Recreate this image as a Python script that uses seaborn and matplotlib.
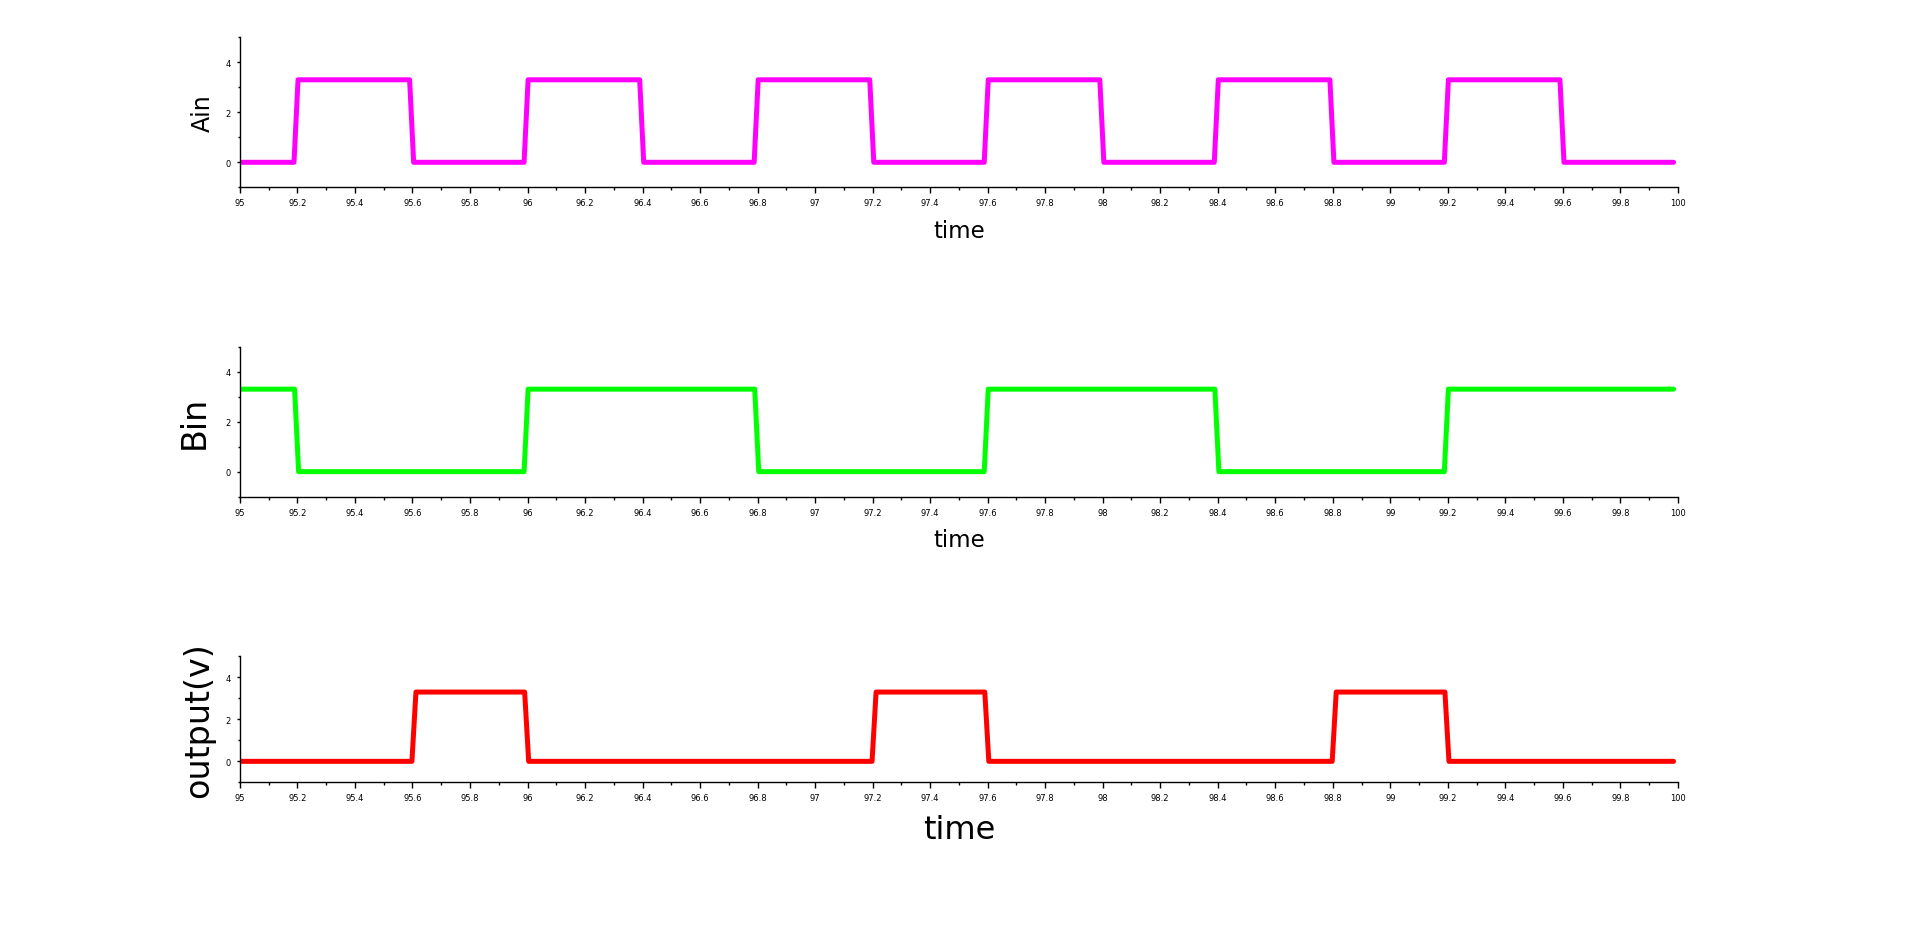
import matplotlib

matplotlib.use("Agg")
import matplotlib.pyplot as plt
import pandas as pd
import seaborn as sns
from matplotlib.ticker import MultipleLocator

# Ain square wave (time, volts)
ain_time = [95.0, 95.188, 95.202, 95.59, 95.604, 95.988, 96.002, 96.39, 96.404,
            96.788, 96.802, 97.19, 97.204, 97.588, 97.602, 97.99, 98.004,
            98.388, 98.402, 98.79, 98.804, 99.188, 99.202, 99.59, 99.604, 99.985]
ain_volts = [0, 0, 3.3, 3.3, 0, 0, 3.3, 3.3, 0, 0, 3.3, 3.3, 0, 0, 3.3, 3.3, 0,
             0, 3.3, 3.3, 0, 0, 3.3, 3.3, 0, 0]

# Bin square wave
bin_time = [95.0, 95.19, 95.204, 95.988, 96.002, 96.79, 96.804, 97.588, 97.602,
            98.39, 98.404, 99.188, 99.202, 99.985]
bin_volts = [3.3, 3.3, 0, 0, 3.3, 3.3, 0, 0, 3.3, 3.3, 0, 0, 3.3, 3.3]

# output
out_time = [95.0, 95.598, 95.612, 95.99, 96.004, 97.198, 97.212, 97.59, 97.604,
            98.798, 98.812, 99.19, 99.204, 99.985]
out_volts = [0, 0, 3.3, 3.3, 0, 0, 3.3, 3.3, 0, 0, 3.3, 3.3, 0, 0]

x_ticks = [95, 95.2, 95.4, 95.6, 95.8, 96, 96.2, 96.4, 96.6, 96.8, 97, 97.2,
           97.4, 97.6, 97.8, 98, 98.2, 98.4, 98.6, 98.8, 99, 99.2, 99.4, 99.6,
           99.8, 100]
x_tick_labels = ["95", "95.2", "95.4", "95.6", "95.8", "96", "96.2", "96.4",
                 "96.6", "96.8", "97", "97.2", "97.4", "97.6", "97.8", "98",
                 "98.2", "98.4", "98.6", "98.8", "99", "99.2", "99.4", "99.6",
                 "99.8", "100"]
y_ticks = [0, 2, 4]

sns.set_style("ticks")
plt.rcParams["font.family"] = ["DejaVu Sans"]
plt.rcParams.update({
    "text.color": "black",
    "axes.labelcolor": "black",
    "xtick.color": "black",
    "ytick.color": "black",
})

fig = plt.figure(figsize=(19.18, 9.29), dpi=100)

panels = [
    # (time, volts, colour, ylabel, ylabel size, xlabel size, rect, ylabel x)
    (ain_time, ain_volts, "#ff00ff", "Ain", 17, 16.5,
     [0.1251, 0.7973, 0.7497, 0.1615], -0.0176),
    (bin_time, bin_volts, "#00ff00", "Bin", 24, 16.5,
     [0.1251, 0.4643, 0.7497, 0.1615], -0.020),
    (out_time, out_volts, "#ff0000", "output(v)", 24, 23,
     [0.1251, 0.1568, 0.7497, 0.1356], -0.0176),
]

for time, volts, colour, ylabel, ysize, xsize, rect, ylab_x in panels:
    ax = fig.add_axes(rect)
    frame = pd.DataFrame({"time": time, "volts": volts})
    sns.lineplot(data=frame, x="time", y="volts", color=colour,
                 linewidth=3.6, ax=ax, estimator=None, sort=False)
    ax.set_xlim(95, 100)
    ax.set_ylim(-1, 5)
    ax.set_xticks(x_ticks)
    ax.set_xticklabels(x_tick_labels)
    ax.set_yticks(y_ticks)
    ax.xaxis.set_minor_locator(MultipleLocator(0.1))
    ax.yaxis.set_minor_locator(MultipleLocator(1))
    ax.tick_params(axis="x", which="major", length=4, width=1,
                   labelsize=6, pad=4)
    ax.tick_params(axis="x", which="minor", length=2, width=1)
    ax.tick_params(axis="y", which="major", length=2.5, width=1,
                   labelsize=6, pad=4)
    ax.tick_params(axis="y", which="minor", length=1.5, width=1)
    sns.despine(ax=ax)
    for side in ("left", "bottom"):
        ax.spines[side].set_linewidth(1.0)
        ax.spines[side].set_color("black")
    ax.set_xlabel("time", fontsize=xsize, labelpad=8)
    ax.set_ylabel(ylabel, fontsize=ysize)
    ax.yaxis.set_label_coords(ylab_x, 0.5)

fig.savefig("out.png", dpi=100, facecolor="white")
